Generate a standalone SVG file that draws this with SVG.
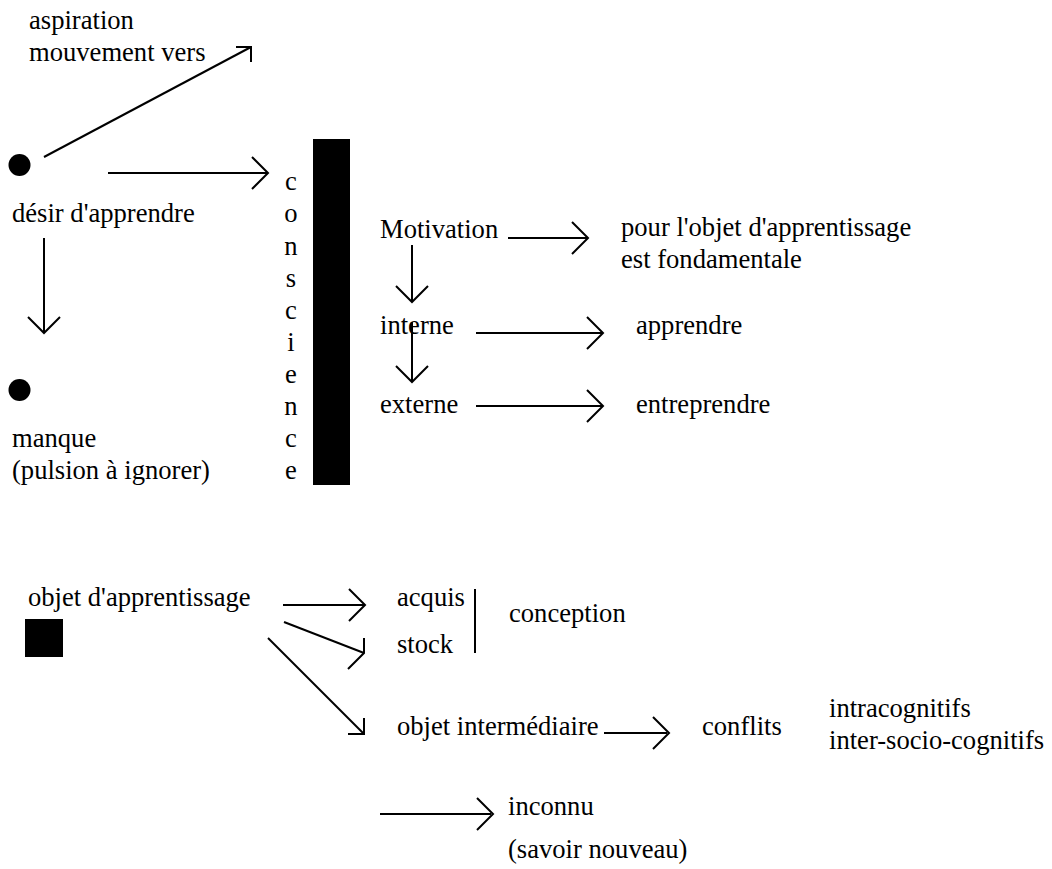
<svg xmlns="http://www.w3.org/2000/svg" width="1052" height="869" viewBox="0 0 1052 869">
<style>
text{font-family:'Liberation Serif',Tinos,'Times New Roman',Times,'DejaVu Serif',serif;font-size:26.6px;fill:#000}
.ln{stroke:#000;stroke-width:2;fill:none;stroke-linecap:butt}
.hd{stroke:#000;stroke-width:2;fill:none;stroke-linejoin:miter}
.mid{text-anchor:middle}
</style>
<rect width="1052" height="869" fill="#fff"/>
<g id="aspiration"><text x="29" y="29">aspiration</text><text x="29" y="61">mouvement vers</text></g>
<g id="desir"><circle cx="19.5" cy="165" r="11" fill="#000"/><text x="12" y="222">désir d'apprendre</text></g>
<g id="manque"><circle cx="19.5" cy="390" r="11" fill="#000"/><text x="12" y="447">manque</text><text x="12" y="479">(pulsion à ignorer)</text></g>
<g id="conscience">
<text class="mid" x="291" y="190">c</text><text class="mid" x="291" y="222">o</text><text class="mid" x="291" y="255">n</text><text class="mid" x="291" y="287">s</text><text class="mid" x="291" y="319">c</text><text class="mid" x="291" y="351">i</text><text class="mid" x="291" y="383">e</text><text class="mid" x="291" y="415">n</text><text class="mid" x="291" y="447">c</text><text class="mid" x="291" y="479">e</text>
<rect x="313" y="139" width="37" height="346" fill="#000"/>
</g>
<g id="motivation"><text x="380" y="238">Motivation</text></g>
<g id="interne"><text x="380" y="334">interne</text></g>
<g id="externe"><text x="380" y="413">externe</text></g>
<g id="pour"><text x="621" y="236">pour l'objet d'apprentissage</text><text x="621" y="268">est fondamentale</text></g>
<g id="apprendre"><text x="636" y="334">apprendre</text></g>
<g id="entreprendre"><text x="636" y="413">entreprendre</text></g>
<g id="objet"><text x="28" y="606">objet d'apprentissage</text><rect x="25" y="619" width="38" height="38" fill="#000"/></g>
<g id="acquis"><text x="397" y="606">acquis</text></g>
<g id="stock"><text x="397" y="653">stock</text></g>
<g id="conception"><line class="ln" x1="475" y1="589" x2="475" y2="653"/><text x="509" y="622">conception</text></g>
<g id="intermediaire"><text x="397" y="735">objet intermédiaire</text></g>
<g id="conflits"><text x="702" y="735">conflits</text></g>
<g id="cognitifs"><text x="829" y="717">intracognitifs</text><text x="829" y="749">inter-socio-cognitifs</text></g>
<g id="inconnu"><text x="508" y="815">inconnu</text><text x="508" y="858">(savoir nouveau)</text></g>
<g id="connectors">
<line class="ln" x1="44" y1="157" x2="251" y2="47"/><polyline class="hd" points="236,47 251,47 251,62"/>
<line class="ln" x1="108" y1="173" x2="267" y2="173"/><polyline class="hd" points="252,157 268,173 252,189"/>
<line class="ln" x1="44" y1="238" x2="44" y2="332"/><polyline class="hd" points="28,317 44,333 60,317"/>
<line class="ln" x1="508" y1="238" x2="587" y2="238"/><polyline class="hd" points="572,222 588,238 572,254"/>
<line class="ln" x1="412" y1="245" x2="412" y2="301"/><polyline class="hd" points="396,286 412,302 428,286"/>
<line class="ln" x1="412" y1="322" x2="412" y2="381"/><polyline class="hd" points="396,366 412,382 428,366"/>
<line class="ln" x1="476" y1="333" x2="602" y2="333"/><polyline class="hd" points="587,317 603,333 587,349"/>
<line class="ln" x1="476" y1="406" x2="602" y2="406"/><polyline class="hd" points="587,390 603,406 587,422"/>
<line class="ln" x1="283" y1="605" x2="364" y2="605"/><polyline class="hd" points="349,589 365,605 349,621"/>
<line class="ln" x1="284" y1="622" x2="364" y2="653"/><polyline class="hd" points="364,638 364,653 348,669"/>
<line class="ln" x1="268" y1="638" x2="364" y2="734"/><polyline class="hd" points="364,718 364,734 348,734"/>
<line class="ln" x1="604" y1="733" x2="667" y2="733"/><polyline class="hd" points="653,717 669,733 653,749"/>
<line class="ln" x1="380" y1="814" x2="491" y2="814"/><polyline class="hd" points="477,798 493,814 477,830"/>
</g>
</svg>
